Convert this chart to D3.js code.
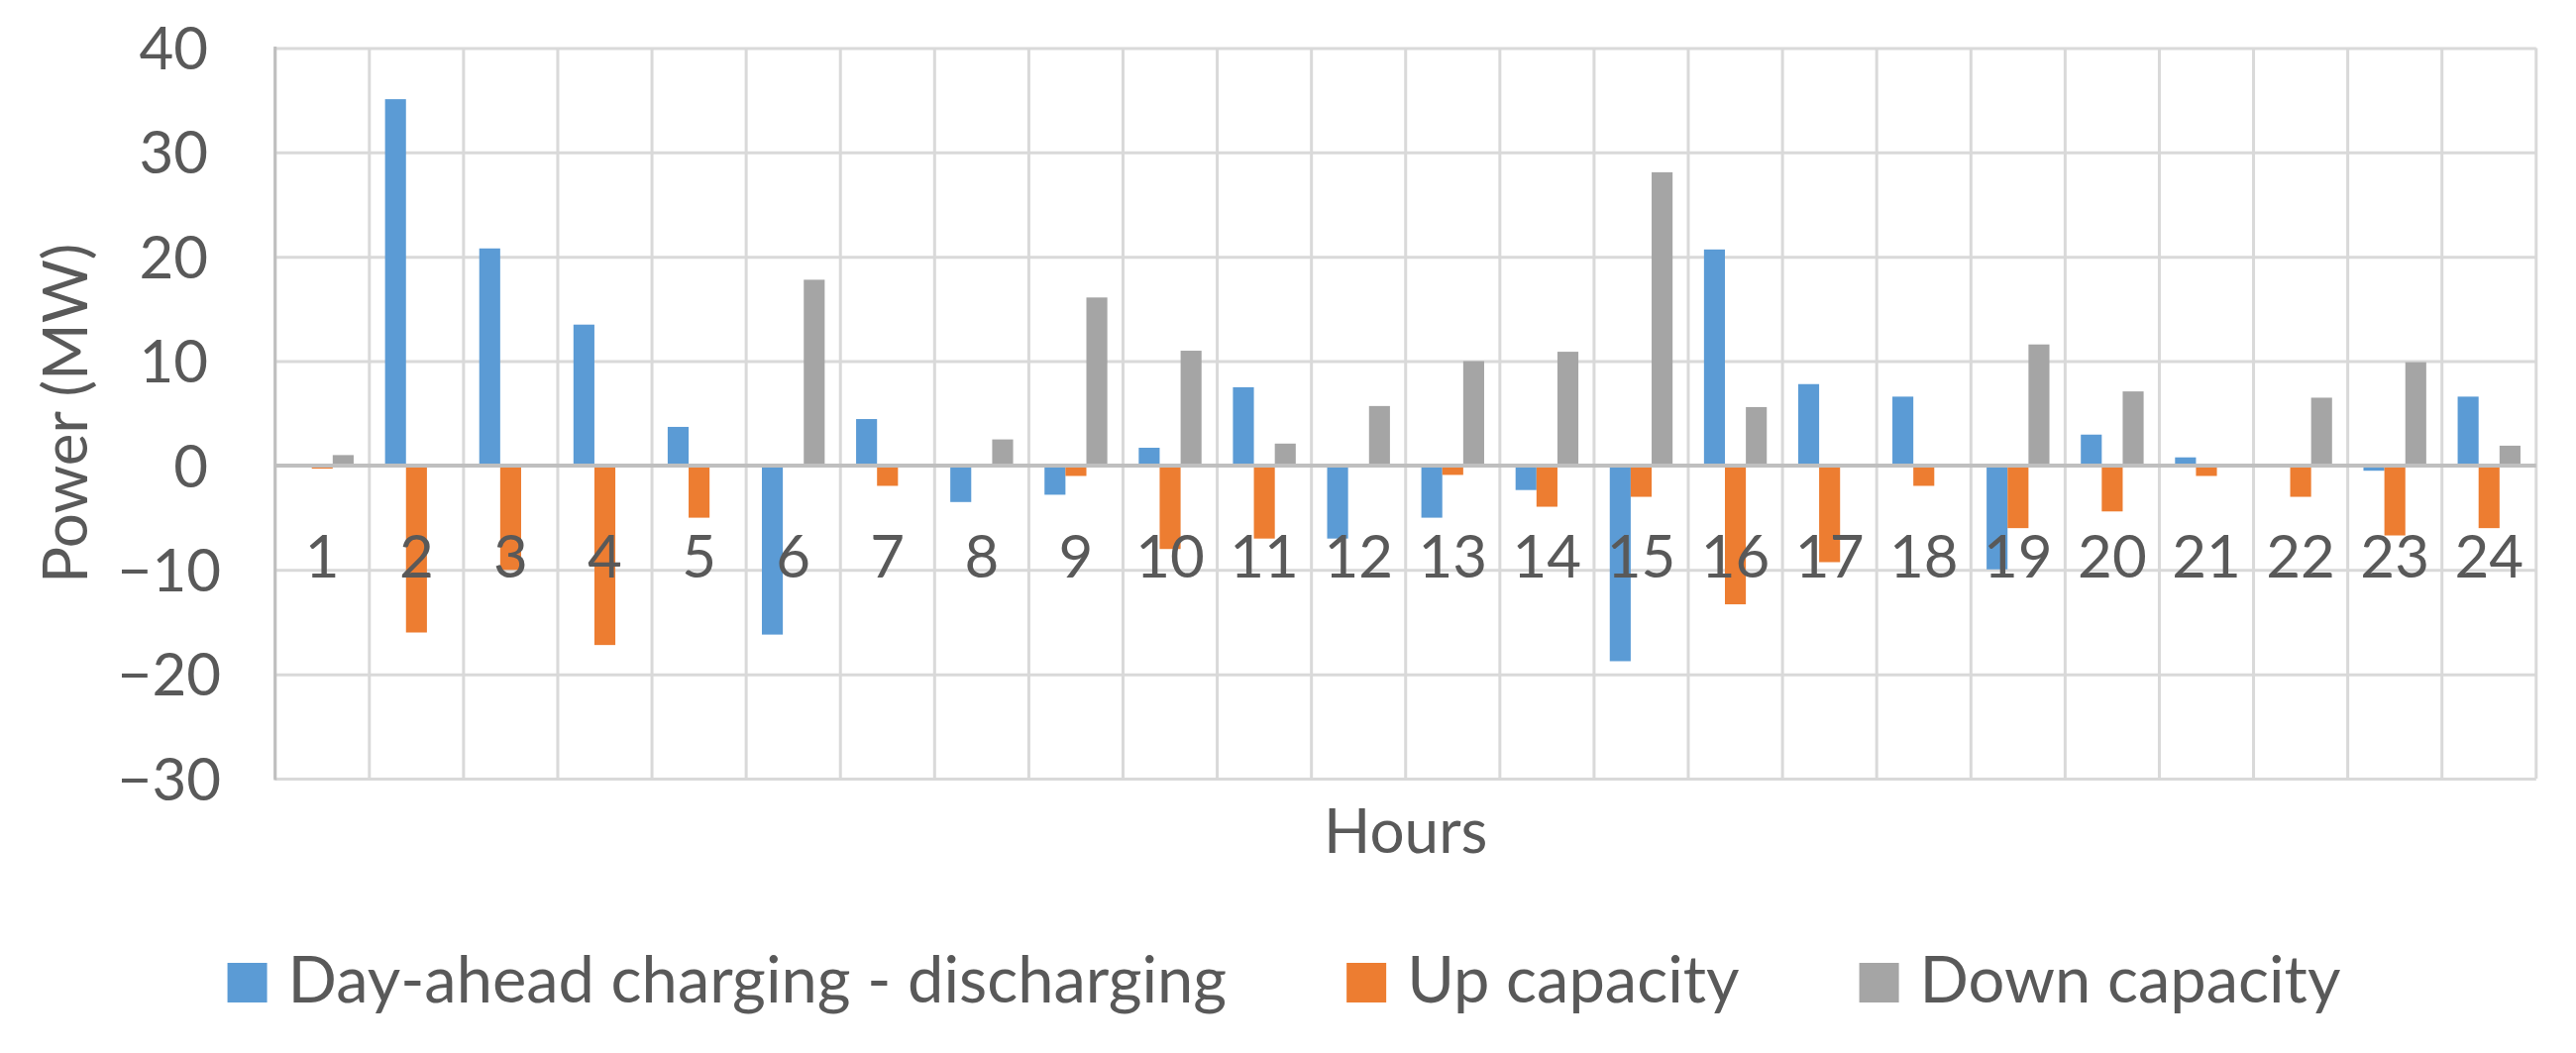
<!DOCTYPE html>
<html>
<head>
<meta charset="utf-8">
<script src="https://cdn.jsdelivr.net/npm/d3@7"></script>
<style>
  html, body { margin: 0; padding: 0; background: #fff; }
  svg { display: block; }
  text { font-family: Lato, "Open Sans", "Liberation Sans", sans-serif; fill: #595959; }
</style>
</head>
<body>
<svg id="chart" width="2600" height="1063"></svg>
<script>
// ---- data ----
const hours = ["1","2","3","4","5","6","7","8","9","10","11","12","13","14","15","16","17","18","19","20","21","22","23","24"];
const seriesNames = ["Day-ahead charging - discharging", "Up capacity", "Down capacity"];
const dayAhead = [0, 35.1, 20.8, 13.5, 3.7, -16.2, 4.45, -3.5, -2.8, 1.7, 7.5, -7.0, -5.0, -2.35, -18.75, 20.7, 7.8, 6.6, -9.95, 2.96, 0.78, 0, -0.5, 6.6];
const upCapacity = [-0.3, -16.0, -10.0, -17.2, -5.0, 0, -1.95, 0, -1.0, -8.0, -7.0, 0, -0.9, -3.95, -3.0, -13.3, -9.26, -1.95, -6.0, -4.4, -1.0, -3.0, -6.7, -6.0];
const downCapacity = [1.0, 0, 0, 0, 0, 17.8, 0, 2.5, 16.1, 11.0, 2.1, 5.7, 10.0, 10.9, 28.1, 5.6, 0, 0, 11.6, 7.1, 0, 6.5, 9.9, 1.9];
const yTicks = [-30, -20, -10, 0, 10, 20, 30, 40];
const colors = ["#5b9bd5", "#ed7d31", "#a5a5a5"];

// ---- layout ----
const svg = d3.select("#chart");
const plot = { left: 277.7, right: 2559.8, top: 48.5, bottom: 786 };

const x0 = d3.scaleBand().domain(hours).range([plot.left, plot.right]).paddingInner(0).paddingOuter(0);
const x1 = d3.scaleBand().domain(d3.range(3)).range([0, x0.bandwidth()]).paddingInner(0).paddingOuter(0.75);
const y = d3.scaleLinear().domain([-30, 40]).range([plot.bottom, plot.top]);

const seriesVals = [dayAhead, upCapacity, downCapacity];
const rows = hours.map((h, i) => ({ h, vals: seriesVals.map(s => s[i]) }));

// horizontal gridlines
const gridY = svg.append("g")
  .attr("transform", `translate(${plot.left},0)`)
  .call(d3.axisLeft(y).tickValues(yTicks).tickSize(-(plot.right - plot.left)).tickFormat(""));
gridY.select(".domain").remove();
gridY.selectAll("line").attr("stroke", "#d9d9d9").attr("stroke-width", 3);

// vertical gridlines at category boundaries
const bounds = hours.map(h => x0(h)).concat([x0.range()[1]]);
svg.append("g").selectAll("line").data(bounds).join("line")
  .attr("x1", d => d).attr("x2", d => d)
  .attr("y1", plot.top).attr("y2", plot.bottom)
  .attr("stroke", "#d9d9d9").attr("stroke-width", 3);

// left axis line
svg.append("line")
  .attr("x1", plot.left).attr("x2", plot.left)
  .attr("y1", plot.top - 1.5).attr("y2", plot.bottom + 1.5)
  .attr("stroke", "#bfbfbf").attr("stroke-width", 3);

// bars
const groups = svg.append("g").selectAll("g").data(rows).join("g")
  .attr("transform", d => `translate(${x0(d.h)},0)`);
groups.selectAll("rect").data(d => d.vals.map((v, k) => ({ v, k }))).join("rect")
  .attr("x", d => x1(d.k))
  .attr("width", x1.bandwidth())
  .attr("y", d => y(Math.max(0, d.v)))
  .attr("height", d => Math.abs(y(d.v) - y(0)))
  .attr("fill", d => colors[d.k]);

// zero line
svg.append("line")
  .attr("x1", plot.left).attr("x2", plot.right)
  .attr("y1", y(0)).attr("y2", y(0))
  .attr("stroke", "#bfbfbf").attr("stroke-width", 4);

// y tick labels
const fmt = d3.format("d");
svg.append("g").selectAll("text").data(yTicks).join("text")
  .attr("x", d => d < 0 ? plot.left - 54.7 : plot.left - 67.7)
  .attr("y", d => y(d))
  .attr("dy", "0.36em")
  .attr("text-anchor", "end")
  .style("font-size", "60px")
  .text(d => fmt(d));

// category labels
svg.append("g").selectAll("text").data(hours).join("text")
  .attr("x", d => x0(d) + x0.bandwidth() / 2)
  .attr("y", y(0) + 113)
  .attr("text-anchor", "middle")
  .style("font-size", "60px")
  .text(d => d);

// axis titles
svg.append("text")
  .attr("transform", `translate(${88},${(plot.top + plot.bottom) / 2}) rotate(-90)`)
  .attr("text-anchor", "middle")
  .style("font-size", "62px")
  .text("Power (MW)");

svg.append("text")
  .attr("x", (plot.left + plot.right) / 2)
  .attr("y", 861)
  .attr("text-anchor", "middle")
  .style("font-size", "62px")
  .text("Hours");

// legend
const legend = svg.append("g");
const items = legend.selectAll("g").data(seriesNames).join("g");
items.append("rect").attr("width", 40).attr("height", 40).attr("y", 972).attr("fill", (d, i) => colors[i]);
items.append("text").attr("x", 61).attr("y", 1012).style("font-size", "65px").text(d => d);
let cx = 0;
const widths = [];
items.each(function () {
  const w = 61 + d3.select(this).select("text").node().getComputedTextLength();
  widths.push(w);
});
const gap = 121;
const total = d3.sum(widths) + gap * (widths.length - 1);
cx = 1296 - total / 2;
items.attr("transform", (d, i) => {
  const t = `translate(${cx},0)`;
  cx += widths[i] + gap;
  return t;
});
</script>
</body>
</html>
